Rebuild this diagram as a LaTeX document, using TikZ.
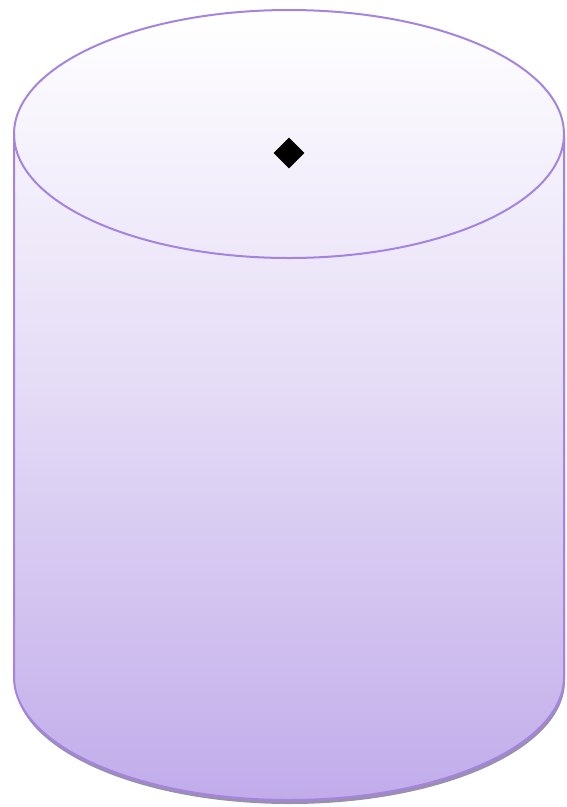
\documentclass[tikz,border=0pt]{standalone}
\usetikzlibrary{shapes.geometric}
\definecolor{cylstroke}{HTML}{A584E0}
\definecolor{cylbottom}{HTML}{C1ACEA}
\definecolor{cylshadow}{HTML}{9A8FB0}
\tikzset{
  cylline/.style={draw=cylstroke, line width=2pt},
  mark diamond/.style={diamond, fill=black, inner sep=0pt, minimum width=31pt, minimum height=31pt}
}
\begin{document}
\begin{tikzpicture}[x=1pt,y=-1pt]
\useasboundingbox (0,0) rectangle (567,807);
% shadow
\fill[cylshadow] (15,137) -- (15,681) arc[start angle=180, end angle=0, x radius=275, y radius=123] -- (565,137) -- cycle;
% body with gradient
\path[top color=white, bottom color=cylbottom, middle color=cylbottom!45!white]
  (14,134) arc[start angle=180, end angle=360, x radius=275, y radius=124]
  -- (564,677) arc[start angle=0, end angle=180, x radius=275, y radius=123] -- cycle;
% outline
\draw[cylline] (14,134) arc[start angle=180, end angle=360, x radius=275, y radius=124]
  -- (564,677) arc[start angle=0, end angle=180, x radius=275, y radius=123] -- cycle;
\draw[cylline] (14,134) arc[start angle=180, end angle=0, x radius=275, y radius=124];
\node[mark diamond] (d) at (289,153) {};
\end{tikzpicture}
\end{document}
